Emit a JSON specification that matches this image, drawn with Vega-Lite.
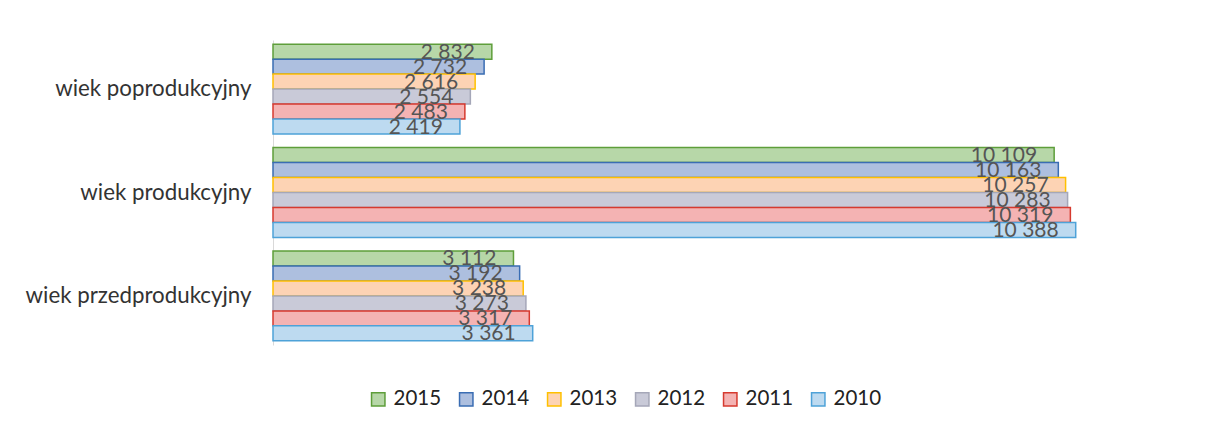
{
  "$schema": "https://vega.github.io/schema/vega-lite/v6.json",
  "autosize": {"type": "none"},
  "width": 850,
  "height": 305,
  "padding": {"left": 273, "top": 40, "right": 103, "bottom": 87},
  "background": "white",
  "config": {
    "view": {"stroke": null},
    "font": "Lato",
    "locale": {"number": {"decimal": ",", "thousands": " ", "grouping": [3], "currency": ["", " zł"]}}
  },
  "data": {
    "values": [
      {"grupa": "wiek poprodukcyjny", "rok": "2015", "wartosc": 2832},
      {"grupa": "wiek poprodukcyjny", "rok": "2014", "wartosc": 2732},
      {"grupa": "wiek poprodukcyjny", "rok": "2013", "wartosc": 2616},
      {"grupa": "wiek poprodukcyjny", "rok": "2012", "wartosc": 2554},
      {"grupa": "wiek poprodukcyjny", "rok": "2011", "wartosc": 2483},
      {"grupa": "wiek poprodukcyjny", "rok": "2010", "wartosc": 2419},
      {"grupa": "wiek produkcyjny", "rok": "2015", "wartosc": 10109},
      {"grupa": "wiek produkcyjny", "rok": "2014", "wartosc": 10163},
      {"grupa": "wiek produkcyjny", "rok": "2013", "wartosc": 10257},
      {"grupa": "wiek produkcyjny", "rok": "2012", "wartosc": 10283},
      {"grupa": "wiek produkcyjny", "rok": "2011", "wartosc": 10319},
      {"grupa": "wiek produkcyjny", "rok": "2010", "wartosc": 10388},
      {"grupa": "wiek przedprodukcyjny", "rok": "2015", "wartosc": 3112},
      {"grupa": "wiek przedprodukcyjny", "rok": "2014", "wartosc": 3192},
      {"grupa": "wiek przedprodukcyjny", "rok": "2013", "wartosc": 3238},
      {"grupa": "wiek przedprodukcyjny", "rok": "2012", "wartosc": 3273},
      {"grupa": "wiek przedprodukcyjny", "rok": "2011", "wartosc": 3317},
      {"grupa": "wiek przedprodukcyjny", "rok": "2010", "wartosc": 3361}
    ]
  },
  "encoding": {
    "y": {
      "field": "grupa", "type": "nominal", "sort": null,
      "scale": {"paddingInner": 0.13, "paddingOuter": 0.04},
      "axis": {"title": null, "ticks": false, "labelPadding": 22, "labelFontSize": 22.3, "labelLimit": 400, "labelColor": "#333333", "labelFont": "Lato", "domainColor": "#d9d9d9", "domainWidth": 1}
    },
    "yOffset": {
      "field": "rok", "type": "nominal",
      "scale": {"domain": ["2015", "2014", "2013", "2012", "2011", "2010"], "paddingInner": 0, "paddingOuter": 0}
    },
    "x": {
      "field": "wartosc", "type": "quantitative",
      "scale": {"domain": [0, 11000], "nice": false},
      "axis": null
    }
  },
  "layer": [
    {
      "mark": {"type": "bar", "strokeWidth": 1.5, "fillOpacity": 1},
      "encoding": {
        "fill": {
          "field": "rok", "type": "nominal",
          "scale": {"domain": ["2015", "2014", "2013", "2012", "2011", "2010"], "range": ["#b7d7a8", "#adbfdf", "#fdd3b4", "#c9cad8", "#f4b3b3", "#bddaf0"]},
          "legend": {"title": null, "orient": "none", "direction": "horizontal", "legendX": 95, "legendY": 349, "symbolType": "square", "symbolSize": 180, "symbolStrokeWidth": 1.5, "labelFontSize": 20.5, "labelColor": "#222222", "columnPadding": 14, "labelOffset": 5}
        },
        "stroke": {
          "field": "rok", "type": "nominal",
          "scale": {"domain": ["2015", "2014", "2013", "2012", "2011", "2010"], "range": ["#5e9e3a", "#3a6db3", "#ffc000", "#a5a7b8", "#d63a2f", "#4ea2d8"]},
          "legend": {"title": null, "orient": "none", "direction": "horizontal", "legendX": 95, "legendY": 349, "symbolType": "square", "symbolSize": 180, "symbolStrokeWidth": 1.5, "labelFontSize": 20.5, "labelColor": "#222222", "columnPadding": 14, "labelOffset": 5}
        }
      }
    },
    {
      "mark": {"type": "text", "align": "right", "baseline": "middle", "dx": -17, "dy": 1, "fontSize": 21, "color": "#555555", "font": "Lato"},
      "encoding": {
        "text": {"field": "wartosc", "type": "quantitative", "format": ",d"}
      }
    }
  ]
}
